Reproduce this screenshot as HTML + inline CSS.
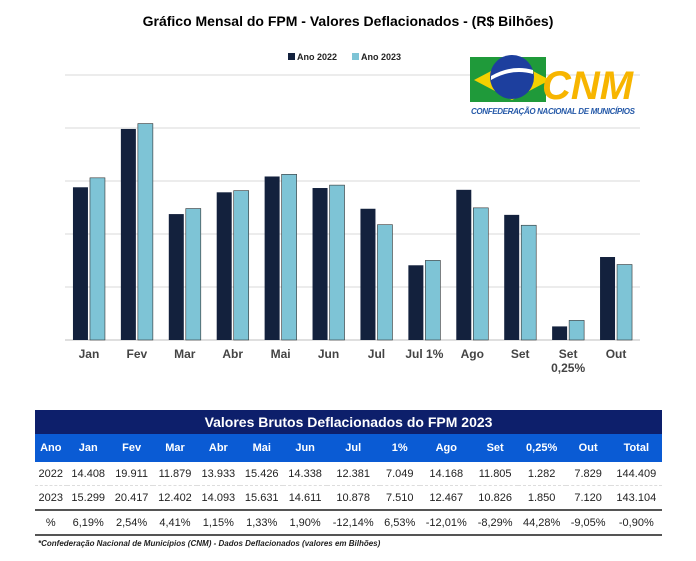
<!DOCTYPE html>
<html><head><meta charset="utf-8"><style>
body{margin:0;width:696px;height:561px;background:#fff;font-family:"Liberation Sans",sans-serif;position:relative;overflow:hidden}
table{position:absolute;left:35px;top:410px;width:627px;border-collapse:collapse;font-size:11px}
td{text-align:center;padding:0;color:#222}
.t{background:#0d1f6b;color:#fff;font-size:14px;height:24px;font-weight:bold}
.h td{background:#0a5bd4;color:#fff;font-weight:bold;height:28px}
.r td{height:23px;border-bottom:1px dashed #ddd}
.r2 td{border-bottom:2px solid #555}
.r3 td{height:23px;border-bottom:2px solid #555}
</style></head><body>
<svg id="c" width="696" height="400" style="position:absolute;left:0;top:0"></svg>
<table>
<tr><td class="t" colspan="14">Valores Brutos Deflacionados do FPM 2023</td></tr>
<tr class="h"><td>Ano</td><td>Jan</td><td>Fev</td><td>Mar</td><td>Abr</td><td>Mai</td><td>Jun</td><td>Jul</td><td>1%</td><td>Ago</td><td>Set</td><td>0,25%</td><td>Out</td><td>Total</td></tr>
<tr class="r"><td>2022</td><td>14.408</td><td>19.911</td><td>11.879</td><td>13.933</td><td>15.426</td><td>14.338</td><td>12.381</td><td>7.049</td><td>14.168</td><td>11.805</td><td>1.282</td><td>7.829</td><td>144.409</td></tr>
<tr class="r r2"><td>2023</td><td>15.299</td><td>20.417</td><td>12.402</td><td>14.093</td><td>15.631</td><td>14.611</td><td>10.878</td><td>7.510</td><td>12.467</td><td>10.826</td><td>1.850</td><td>7.120</td><td>143.104</td></tr>
<tr class="r3"><td>%</td><td>6,19%</td><td>2,54%</td><td>4,41%</td><td>1,15%</td><td>1,33%</td><td>1,90%</td><td>-12,14%</td><td>6,53%</td><td>-12,01%</td><td>-8,29%</td><td>44,28%</td><td>-9,05%</td><td>-0,90%</td></tr>
</table>
<div style="position:absolute;left:38px;top:539px;font-size:8px;font-style:italic;font-weight:bold;color:#222">*Confederação Nacional de Municípios (CNM) - Dados Deflacionados (valores em Bilhões)</div>
<script>
const cats=["Jan","Fev","Mar","Abr","Mai","Jun","Jul","Jul 1%","Ago","Set","Set 0,25%","Out"];
const s2022=[14.408,19.911,11.879,13.933,15.426,14.338,12.381,7.049,14.168,11.805,1.282,7.829];
const s2023=[15.299,20.417,12.402,14.093,15.631,14.611,10.878,7.510,12.467,10.826,1.850,7.120];
const ticks=[0,5,10,15,20,25];
const svg=document.getElementById('c'),NS='http://www.w3.org/2000/svg';
function mk(t,a,p){const e=document.createElementNS(NS,t);for(const k in a)e.setAttribute(k,a[k]);(p||svg).appendChild(e);return e;}
const x0=65,x1=640,y=v=>340-v*10.6,gw=(x1-x0)/cats.length,xc=i=>x0+gw*(i+0.5);
ticks.forEach(t=>{const l=mk('line',{x1:x0,x2:x1,y1:y(t),y2:y(t),stroke:t?'#d9d9d9':'#bfbfbf'});});
cats.forEach((c,i)=>{
 const a=mk('rect',{x:xc(i)-16,y:y(s2022[i]),width:15,height:y(0)-y(s2022[i]),fill:'#13213d'});
 
 const b=mk('rect',{x:xc(i)+1,y:y(s2023[i]),width:15,height:y(0)-y(s2023[i]),fill:'#7ec4d6',stroke:'#333','stroke-width':0.6});
 
 const parts=c.startsWith('Set ')?['Set','0,25%']:[c];
 parts.forEach((p,j)=>{const t=mk('text',{x:xc(i),y:358+j*14,'text-anchor':'middle','font-size':12,'font-weight':'bold',fill:'#444'});t.textContent=p;});
});
let t=mk('text',{x:348,y:26,'text-anchor':'middle','font-size':14,'font-weight':'bold',fill:'#000'});t.textContent='Gráfico Mensal do FPM - Valores Deflacionados - (R$ Bilhões)';
[['Ano 2022','#13213d',288],['Ano 2023','#7ec4d6',352]].forEach(([n,c,x])=>{const r=mk('rect',{x:x,y:53,width:7,height:7,fill:c});const tt=mk('text',{x:x+9,y:60,'font-size':9,'font-weight':'bold',fill:'#222'});tt.textContent=n;});
const g=mk('g',{});
mk('rect',{x:470,y:57,width:76,height:45,fill:'#1f9a3a'},g);
mk('polygon',{points:'474,80 512,60 550,80 512,100',fill:'#f5d000'},g);
mk('circle',{cx:512,cy:77,r:22,fill:'#1d3f9e'},g);
mk('path',{d:'M491,76 Q512,64 533,70 L533,74 Q512,68 491,80Z',fill:'#fff'},g);
const cnm=mk('text',{x:542,y:99,'font-size':40,'font-weight':'bold','font-style':'italic',fill:'#f7b500'},g);cnm.textContent='CNM';
const sub=mk('text',{x:471,y:114,'font-size':8,'font-weight':'bold','font-style':'italic',fill:'#2559a8',textLength:164},g);sub.textContent='CONFEDERAÇÃO NACIONAL DE MUNICÍPIOS';
</script>
</body></html>
